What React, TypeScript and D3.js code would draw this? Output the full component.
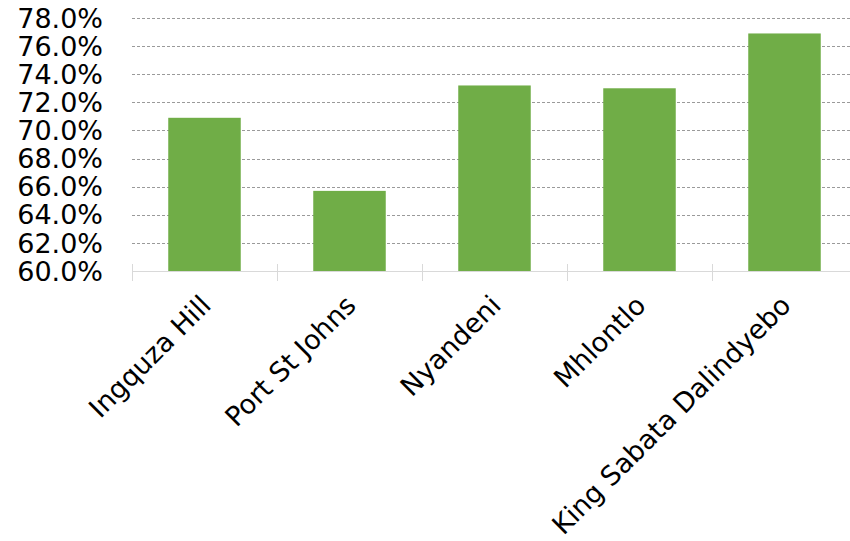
import React from "react";
import * as d3 from "d3";

const categories = ["Ingquza Hill", "Port St Johns", "Nyandeni", "Mhlontlo", "King Sabata Dalindyebo"];
const values = [0.709, 0.657, 0.732, 0.730, 0.769];
const yTicks = [0.60, 0.62, 0.64, 0.66, 0.68, 0.70, 0.72, 0.74, 0.76, 0.78];

const W = 850;
const H = 541;
const left = 132;
const right = 857;
const top = 18;
const bottom = 271;

export default function App() {
  const x = d3.scaleBand<string>().domain(categories).range([left, right]).paddingInner(0.5).paddingOuter(0.25);
  const xb = d3.scaleBand<string>().domain(categories).range([left, right]);
  const y = d3.scaleLinear().domain([0.6, 0.78]).range([bottom, top]);
  const fmt = d3.format(".1%");
  const font = "'DejaVu Sans', Verdana, sans-serif";
  return (
    <svg width={W} height={H} style={{ position: "absolute", left: 0, top: 0 }} fontFamily={font}>
      {yTicks.slice(1).map((t) => (
        <line key={t} x1={left} x2={right} y1={Math.round(y(t)) + 0.5} y2={Math.round(y(t)) + 0.5}
          stroke="#9a9a9a" strokeDasharray="3,2" strokeWidth={1} />
      ))}
      {categories.map((c, i) => (
        <rect key={c} x={x(c)} width={x.bandwidth()} y={y(values[i])} height={y(0.6) - y(values[i])} fill="#70AD47" />
      ))}
      <line x1={left} x2={right} y1={bottom + 0.5} y2={bottom + 0.5} stroke="#d9d9d9" strokeWidth={1} />
      {categories.map((c) => (
        <line key={c} x1={Math.round(xb(c)!) + 0.5} x2={Math.round(xb(c)!) + 0.5} y1={264} y2={281} stroke="#d9d9d9" />
      ))}
      {yTicks.map((t) => (
        <text key={t} x={103} y={y(t)} dy="0.36em" textAnchor="end" fontSize={27} fill="#000">{fmt(t)}</text>
      ))}
      {categories.map((c) => {
        const cx = xb(c)! + xb.bandwidth() / 2 + 8;
        return (
          <text key={c} transform={`translate(${cx},${307}) rotate(-45)`} textAnchor="end" fontSize={27} fill="#000">{c}</text>
        );
      })}
    </svg>
  );
}
